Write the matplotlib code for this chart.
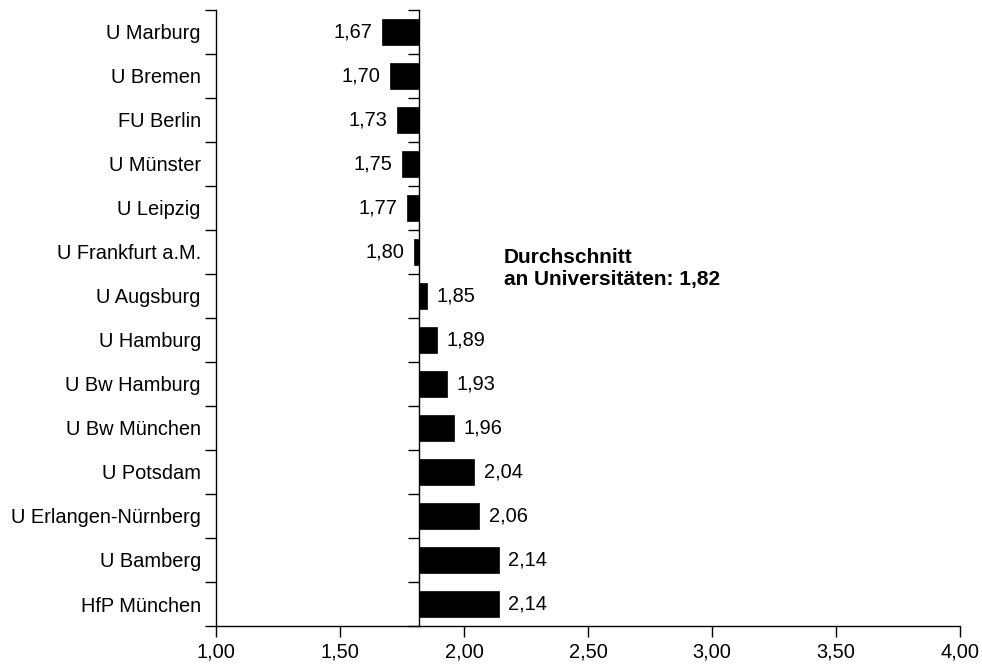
import numpy as np
import matplotlib
matplotlib.use("Agg")
import matplotlib.pyplot as plt
from matplotlib.ticker import FuncFormatter

# Durchschnittsnoten je Hochschule (oben -> unten)
universities = ["U Marburg", "U Bremen", "FU Berlin", "U Münster", "U Leipzig",
                "U Frankfurt a.M.", "U Augsburg", "U Hamburg", "U Bw Hamburg",
                "U Bw München", "U Potsdam", "U Erlangen-Nürnberg", "U Bamberg",
                "HfP München"]
grades = [1.67, 1.70, 1.73, 1.75, 1.77, 1.80, 1.85, 1.89, 1.93, 1.96,
          2.04, 2.06, 2.14, 2.14]
average = 1.82
x_ticks = [1.0, 1.5, 2.0, 2.5, 3.0, 3.5, 4.0]
avg_text = "Durchschnitt\nan Universitäten: 1,82"

plt.rcParams["font.family"] = ["Liberation Sans", "DejaVu Sans"]
FS = 14.4


def de(v, pos=None):
    return f"{v:.2f}".replace(".", ",")


fig = plt.figure(figsize=(9.82, 6.64), dpi=100)
ax = fig.add_axes([0.220, 0.0572, 0.7576, 0.928])

y = np.arange(len(universities))
widths = [g - average for g in grades]
ax.barh(y, widths, left=average, height=0.6, color="black",
        edgecolor="black", linewidth=0.5, zorder=3)

# value labels
for yi, g in zip(y, grades):
    if g < average:
        ax.annotate(de(g), (g, yi), xytext=(-7, 0), textcoords="offset points",
                    ha="right", va="center", fontsize=FS)
    else:
        ax.annotate(de(g), (g, yi), xytext=(7, 0), textcoords="offset points",
                    ha="left", va="center", fontsize=FS)

ax.text(2.16, 5.38, avg_text, ha="left", va="center", fontsize=15,
        fontweight="bold", linespacing=1.2)

ax.set_xlim(x_ticks[0], x_ticks[-1])
ax.set_ylim(len(universities) - 0.5, -0.5)
ax.set_xticks(x_ticks)
ax.xaxis.set_major_formatter(FuncFormatter(de))
ax.set_yticks(y)
ax.set_yticklabels(universities)
ax.set_yticks(np.arange(len(universities) + 1) - 0.5, minor=True)

ax.tick_params(axis="x", length=8, width=1, labelsize=FS, pad=4)
ax.tick_params(axis="y", which="major", length=0, labelsize=FS, pad=11)
ax.tick_params(axis="y", which="minor", length=8, width=1)

for s in ["top", "right"]:
    ax.spines[s].set_visible(False)
for s in ["left", "bottom"]:
    ax.spines[s].set_linewidth(1)

# zweite Achse beim Durchschnitt
sec = ax.secondary_yaxis(average, transform=ax.transData)
sec.set_alignment("left")
sec.set_yticks([])
sec.set_yticks(np.arange(len(universities) + 1) - 0.5, minor=True)
sec.tick_params(which="minor", length=8, width=1, labelleft=False)
sec.spines["left"].set_linewidth(1)

fig.savefig("out.png", dpi=100)
